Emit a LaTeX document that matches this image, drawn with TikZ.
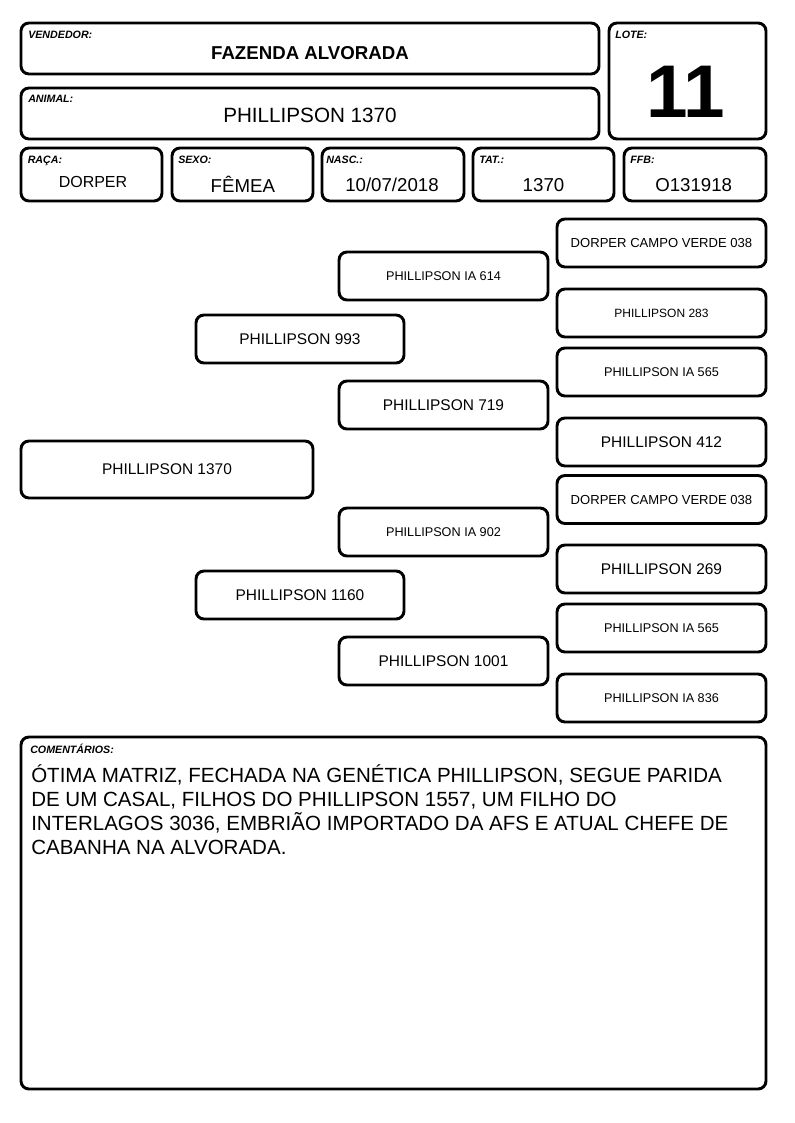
\documentclass[tikz,border=0pt]{standalone}
\usepackage{fontspec}
\setmainfont{Liberation Sans}
\begin{document}
\begin{tikzpicture}[x={(0.75pt,0)}, y={(0,-0.75pt)},
  bx/.style={draw, line width=2.2pt, rounded corners=6pt, inner sep=0pt},
  sz/.style 2 args={minimum width=#1*0.75pt, minimum height=#2*0.75pt},
  fs/.style={font=\fontsize{#1pt}{#1pt}\selectfont},
  fsb/.style={font=\fontsize{#1pt}{#1pt}\selectfont\bfseries},
  lbl/.style={anchor=base west, inner sep=0pt, font=\fontsize{8pt}{8pt}\selectfont\bfseries\itshape},
  val/.style={anchor=base, inner sep=0pt},
  cline/.style={anchor=base west, inner sep=0pt, fs=15.4}]
\useasboundingbox (0,0) rectangle (794,1123);
% header
\node[bx, sz={578}{51}] (vend) at (310,48.5) {};
\node[lbl] (vendl) at (28,39) {VENDEDOR:};
\node[val, fsb=14] (vendv) at (310,60) {FAZENDA ALVORADA};
\node[bx, sz={578}{51}] (anim) at (310,113.5) {};
\node[lbl] (animl) at (28,102.3) {ANIMAL:};
\node[val, fs=15.5] (animv) at (310,123) {PHILLIPSON 1370};
\node[bx, sz={157}{116}] (lote) at (687.5,81) {};
\node[lbl] (lotel) at (615,38.3) {LOTE:};
\node[val, fsb=56] (lotev) at (686,118) {11};
% row
\node[bx, sz={141}{53}] (raca) at (91.5,174.5) {};
\node[lbl] (racal) at (27.5,163.3) {RAÇA:};
\node[val, fs=12] (racav) at (93,188) {DORPER};
\node[bx, sz={141}{53}] (sexo) at (242.5,174.5) {};
\node[lbl] (sexol) at (178,163.3) {SEXO:};
\node[val, fs=14] (sexov) at (242.8,193) {FÊMEA};
\node[bx, sz={142}{53}] (nasc) at (393,174.5) {};
\node[lbl] (nascl) at (326,163.3) {NASC.:};
\node[val, fs=14] (nascv) at (392,192) {10/07/2018};
\node[bx, sz={141}{53}] (tat) at (543.5,174.5) {};
\node[lbl] (tatl) at (479,163.3) {TAT.:};
\node[val, fs=14] (tatv) at (543.5,192) {1370};
\node[bx, sz={142}{53}] (ffb) at (695,174.5) {};
\node[lbl] (ffbl) at (630,163.3) {FFB:};
\node[val, fs=14] (ffbv) at (693.7,192) {O131918};
% pedigree
\node[bx, sz={292}{57}, fs=11.6] (g1) at (167,469.5) {PHILLIPSON 1370};
\node[bx, sz={208}{48}, fs=11.6] (g2a) at (300,339) {PHILLIPSON 993};
\node[bx, sz={208}{48}, fs=11.6] (g2b) at (300,595) {PHILLIPSON 1160};
\node[bx, sz={209}{48}, fs=9.5] (g3a) at (443.5,276) {PHILLIPSON IA 614};
\node[bx, sz={209}{48}, fs=11.6] (g3b) at (443.5,405) {PHILLIPSON 719};
\node[bx, sz={209}{48}, fs=9.5] (g3c) at (443.5,532) {PHILLIPSON IA 902};
\node[bx, sz={209}{48}, fs=11.6] (g3d) at (443.5,661) {PHILLIPSON 1001};
\node[bx, sz={209}{48}, fs=9.8] (g4a) at (661.5,243) {DORPER CAMPO VERDE 038};
\node[bx, sz={209}{48}, fs=9] (g4b) at (661.5,313) {PHILLIPSON 283};
\node[bx, sz={209}{48}, fs=9.5] (g4c) at (661.5,372) {PHILLIPSON IA 565};
\node[bx, sz={209}{48}, fs=11.6] (g4d) at (661.5,442) {PHILLIPSON 412};
\node[bx, sz={209}{48}, fs=9.8] (g4e) at (661.5,499.5) {DORPER CAMPO VERDE 038};
\node[bx, sz={209}{48}, fs=11.6] (g4f) at (661.5,569) {PHILLIPSON 269};
\node[bx, sz={209}{48}, fs=9.5] (g4g) at (661.5,628) {PHILLIPSON IA 565};
\node[bx, sz={209}{48}, fs=9.5] (g4h) at (661.5,698) {PHILLIPSON IA 836};
% comments
\node[bx, sz={745}{352}] (com) at (393.5,913) {};
\node[lbl] (coml) at (30,753) {COMENTÁRIOS:};
\node[cline] (c1) at (31,782) {ÓTIMA MATRIZ, FECHADA NA GENÉTICA PHILLIPSON, SEGUE PARIDA};
\node[cline] (c2) at (31,806) {DE UM CASAL, FILHOS DO PHILLIPSON 1557, UM FILHO DO};
\node[cline] (c3) at (31,830) {INTERLAGOS 3036, EMBRIÃO IMPORTADO DA AFS E ATUAL CHEFE DE};
\node[cline] (c4) at (31,854) {CABANHA NA ALVORADA.};
\end{tikzpicture}
\end{document}
